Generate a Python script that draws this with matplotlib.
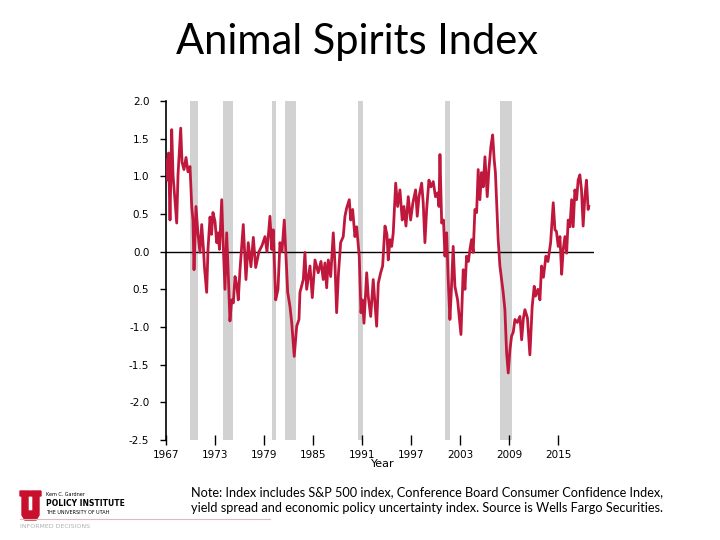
import matplotlib
matplotlib.use("Agg")
import matplotlib.pyplot as plt
from matplotlib.patches import Polygon

# Animal spirits index (year, index value)
years = [
    1967.09, 1967.18, 1967.31, 1967.49, 1967.70, 1967.86, 1968.04, 1968.31, 1968.47, 1968.80,
    1968.96, 1969.20, 1969.45, 1969.69, 1969.94, 1970.15, 1970.30, 1970.43, 1970.67, 1970.92,
    1971.16, 1971.37, 1971.59, 1971.71, 1971.98, 1972.14, 1972.39, 1972.57, 1972.75, 1973.00,
    1973.21, 1973.36, 1973.55, 1973.82, 1973.98, 1974.22, 1974.43, 1974.65, 1974.83, 1975.04,
    1975.24, 1975.45, 1975.66, 1975.85, 1976.06, 1976.46, 1976.79, 1977.07, 1977.40, 1977.69,
    1977.98, 1978.38, 1978.75, 1979.12, 1979.36, 1979.73, 1979.94, 1980.13, 1980.43, 1980.71,
    1980.95, 1981.20, 1981.48, 1981.65, 1981.90, 1982.18, 1982.39, 1982.70, 1983.00, 1983.28,
    1983.40, 1983.81, 1984.01, 1984.22, 1984.63, 1984.91, 1985.24, 1985.64, 1985.97, 1986.25,
    1986.46, 1986.67, 1986.87, 1987.16, 1987.48, 1987.69, 1987.89, 1988.11, 1988.38, 1988.70,
    1988.91, 1989.12, 1989.44, 1989.61, 1989.85, 1990.13, 1990.34, 1990.66, 1990.87, 1991.05,
    1991.24, 1991.57, 1991.76, 1992.06, 1992.37, 1992.58, 1992.79, 1992.99, 1993.28, 1993.52,
    1993.81, 1994.05, 1994.21, 1994.42, 1994.63, 1994.82, 1995.12, 1995.36, 1995.64, 1995.92,
    1996.13, 1996.38, 1996.66, 1996.95, 1997.23, 1997.56, 1997.76, 1997.97, 1998.30, 1998.49,
    1998.70, 1998.91, 1999.19, 1999.44, 1999.72, 1999.99, 2000.26, 2000.42, 2000.54, 2000.75,
    2000.97, 2001.15, 2001.36, 2001.55, 2001.76, 2001.94, 2002.16, 2002.37, 2002.70, 2003.11,
    2003.39, 2003.60, 2003.80, 2004.02, 2004.21, 2004.41, 2004.61, 2004.82, 2005.03, 2005.22,
    2005.43, 2005.64, 2005.84, 2006.05, 2006.33, 2006.53, 2006.78, 2006.99, 2007.18, 2007.33,
    2007.48, 2007.67, 2007.88, 2008.09, 2008.28, 2008.49, 2008.70, 2008.90, 2009.11, 2009.31,
    2009.51, 2009.72, 2010.02, 2010.33, 2010.54, 2010.76, 2010.94, 2011.25, 2011.55, 2011.83,
    2012.08, 2012.23, 2012.53, 2012.78, 2012.98, 2013.21, 2013.51, 2013.76, 2014.09, 2014.41,
    2014.62, 2014.80, 2015.02, 2015.23, 2015.44, 2015.63, 2015.84, 2016.05, 2016.24, 2016.45,
    2016.66, 2016.85, 2017.06, 2017.27, 2017.46, 2017.67, 2017.87, 2018.07, 2018.28, 2018.48,
    2018.68, 2018.76,
]
index = [
    1.22, 0.95, 1.31, 0.42, 1.62, 1.02, 0.76, 0.38, 1.02, 1.64,
    1.19, 1.09, 1.25, 1.06, 1.13, 0.60, 0.42, -0.24, 0.60, 0.23,
    -0.01, 0.36, 0.03, -0.21, -0.54, 0.03, 0.46, 0.23, 0.52, 0.40,
    0.12, 0.25, 0.03, 0.69, 0.16, -0.50, 0.25, -0.37, -0.92, -0.64,
    -0.68, -0.33, -0.44, -0.64, -0.24, 0.36, -0.37, 0.12, -0.20, 0.19,
    -0.21, 0.00, 0.08, 0.20, 0.00, 0.47, 0.03, 0.29, -0.64, -0.50,
    0.12, 0.00, 0.42, 0.03, -0.54, -0.73, -0.94, -1.39, -0.99, -0.90,
    -0.54, -0.37, -0.01, -0.50, -0.19, -0.61, -0.11, -0.28, -0.13, -0.37,
    -0.15, -0.48, -0.11, -0.33, 0.25, -0.17, -0.81, -0.30, 0.12, 0.20,
    0.47, 0.58, 0.69, 0.42, 0.56, 0.20, 0.33, -0.06, -0.81, -0.64,
    -0.95, -0.28, -0.59, -0.86, -0.37, -0.68, -0.99, -0.42, -0.28, -0.19,
    0.34, 0.23, -0.11, 0.16, 0.07, 0.25, 0.91, 0.60, 0.82, 0.42,
    0.60, 0.34, 0.73, 0.42, 0.65, 0.82, 0.47, 0.73, 0.91, 0.65,
    0.12, 0.56, 0.95, 0.86, 0.93, 0.73, 0.78, 0.60, 1.29, 0.38,
    0.42, -0.06, 0.25, -0.37, -0.90, -0.50, 0.07, -0.46, -0.64, -1.10,
    -0.24, -0.50, -0.06, -0.13, 0.03, 0.16, -0.01, 0.56, 0.52, 1.09,
    0.69, 1.05, 0.86, 1.26, 0.73, 1.09, 1.40, 1.55, 1.22, 1.05,
    0.65, 0.16, -0.19, -0.37, -0.54, -0.77, -1.34, -1.61, -1.30, -1.12,
    -1.07, -0.90, -0.94, -0.86, -1.17, -0.88, -0.77, -0.88, -1.37, -0.73,
    -0.46, -0.59, -0.50, -0.64, -0.19, -0.34, -0.06, -0.13, 0.12, 0.65,
    0.29, 0.27, 0.07, 0.20, -0.30, 0.03, 0.20, -0.02, 0.42, 0.33,
    0.69, 0.33, 0.82, 0.69, 0.95, 1.02, 0.82, 0.34, 0.73, 0.95,
    0.56, 0.60,
]

# recession periods (start, end)
rec_start = [1969.95, 1973.95, 1980.0, 1981.57, 1990.55, 2001.15, 2007.88]
rec_end = [1970.88, 1975.2, 1980.5, 1982.88, 1991.15, 2001.76, 2009.39]

x_ticks = [1967, 1973, 1979, 1985, 1991, 1997, 2003, 2009, 2015]
y_ticks = [2.0, 1.5, 1.0, 0.5, 0.0, -0.5, -1.0, -1.5, -2.0, -2.5]
y_tick_labels = ["2.0", "1.5", "1.0", "0.5", "0.0", "0.5", "-1.0", "-1.5", "-2.0", "-2.5"]

W, H = 720, 540
fig = plt.figure(figsize=(7.2, 5.4), dpi=100)
ax = fig.add_axes([166 / W, 1 - 440 / H, (594 - 166) / W, (440 - 101) / H])

for s, e in zip(rec_start, rec_end):
    ax.axvspan(s, e, color="#d2d2d2", lw=0, zorder=1)

ax.axhline(0, color="black", lw=1.0, zorder=2)
ax.plot(years, index, color="#c0183c", lw=2.0, zorder=3)

ax.set_xlim(1967, 2019.4)
ax.set_ylim(-2.5, 2.0)
ax.set_xticks(x_ticks)
ax.set_xticklabels([str(y) for y in x_ticks], fontsize=7.5)
ax.set_yticks(y_ticks)
ax.set_yticklabels(y_tick_labels, fontsize=7.5)
ax.tick_params(axis="x", direction="inout", length=7, width=1, pad=4)
ax.tick_params(axis="y", direction="out", length=4, width=1, pad=8)
for side in ["top", "right", "bottom"]:
    ax.spines[side].set_visible(False)
ax.spines["left"].set_linewidth(1.2)
ax.set_xlabel("Year", fontsize=8, labelpad=0)
ax.xaxis.set_label_coords((383 - 166) / (594 - 166), -0.055)

# title
fig.text(357 / W, 1 - 42 / H, "Animal Spirits Index", fontsize=30, family="Lato",
         ha="center", va="center")

# note
fig.text(191 / W, 1 - 500 / H,
         "Note: Index includes S&P 500 index, Conference Board Consumer Confidence Index,\n"
         "yield spread and economic policy uncertainty index. Source is Wells Fargo Securities.",
         fontsize=9.2, family="Lato", ha="left", va="center", linespacing=1.45)

# logo, rough
def px(x, y):
    return (x / W, 1 - y / H)

u_pts = [(20, 491), (30, 491), (30, 496), (28, 496), (28, 511), (33, 511), (33, 496),
         (31, 496), (31, 491), (41, 491), (41, 496), (39, 496), (39, 515), (36, 520),
         (25, 520), (22, 515), (22, 496), (20, 496)]
fig.add_artist(Polygon([px(*p) for p in u_pts], closed=True, color="#c8102e",
                       transform=fig.transFigure))
fig.text(*px(46, 495), "Kem C. Gardner", fontsize=3.5, va="center", ha="left")
fig.text(*px(46, 503), "POLICY INSTITUTE", fontsize=5.5, weight="bold", va="center", ha="left")
fig.text(*px(46, 512), "THE UNIVERSITY OF UTAH", fontsize=3.5, va="center", ha="left")
fig.add_artist(plt.Line2D([20 / W, 270 / W], [1 - 519 / H, 1 - 519 / H], color="#e0b8bd",
                          lw=0.8, transform=fig.transFigure))
fig.text(*px(20, 527), "INFORMED DECISIONS", fontsize=4.5, color="#b0b0b0", va="center",
         ha="left")

fig.savefig("out.png", dpi=100)
